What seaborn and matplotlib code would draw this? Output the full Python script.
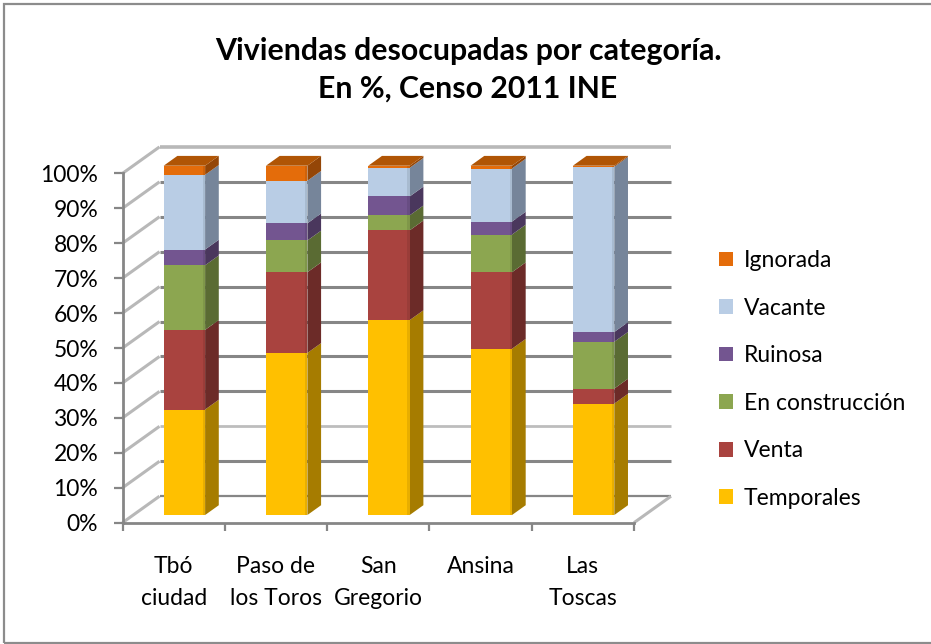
import numpy as np
import matplotlib
matplotlib.use("Agg")
import matplotlib.pyplot as plt
from matplotlib.patches import Patch, Rectangle
from matplotlib.ticker import PercentFormatter
import seaborn as sns

categories = ["Tbó\nciudad", "Paso de\nlos Toros", "San\nGregorio", "Ansina", "Las\nToscas"]
temporales = [30.2, 46.4, 55.8, 47.6, 31.9]
venta = [22.8, 23.1, 25.7, 21.9, 4.3]
construccion = [18.5, 9.1, 4.3, 10.8, 13.4]
ruinosa = [4.5, 4.9, 5.4, 3.7, 2.8]
vacante = [21.4, 12.2, 8.2, 15.2, 47.3]
ignorada = [2.6, 4.3, 0.6, 0.8, 0.3]

series_names = ["Temporales", "Venta", "En construcción", "Ruinosa", "Vacante", "Ignorada"]
series_values = [temporales, venta, construccion, ruinosa, vacante, ignorada]
front_colors = ["#FFC000", "#A9433F", "#8CA650", "#735590", "#B9CDE5", "#E46C0A"]
strip_colors = ["#E8AE00", "#9A3D39", "#7F9749", "#684D83", "#A8BBD0", "#CF6209"]
side_colors = ["#A67C00", "#6C2B28", "#5A6B33", "#4A375D", "#76859A", "#944607"]
top_color = "#B05505"

W, H = 931, 644
sns.set_theme(style="white")
plt.rcParams["font.family"] = ["Lato", "DejaVu Sans"]
fs = 16.5

fig = plt.figure(figsize=(W / 100, H / 100), dpi=100, facecolor="white")
L, R, T, B = 122.5, 634, 173.4, 522.7
ax = fig.add_axes([L / W, 1 - B / H, (R - L) / W, (B - T) / H])
ax.patch.set_alpha(0)

# oblique projection (depth 1 = back wall)
n = len(categories)
DX = 37 / ((R - L) / n)
DY = 26.5 / ((B - T) / 100)
D0, D1 = 0.29, 0.66
BW = 0.405
STRIP = 2.2 / ((R - L) / n)


def proj(x, p, d):
    return x + d * DX, p + d * DY


wall = "#868686"
# back wall grid, side wall and floor lines
for p in range(0, 101, 10):
    x0, y0 = proj(0, p, 1)
    x1, y1 = proj(n, p, 1)
    if p == 100:
        col, lw = "#B8B8B8", 2.6
    elif p == 20:
        col, lw = "#BDBDBD", 2.0
    else:
        col, lw = wall, 2.2 if p else 1.6
    ax.plot([x0, x1], [y0, y1], color=col, lw=lw, clip_on=False, zorder=1, solid_capstyle="butt")
    xd, yd = proj(0, p, 0)
    ax.plot([xd, x0], [yd, y0], color="#B8B8B8", lw=2.2, clip_on=False, zorder=1, solid_capstyle="butt")
xa, ya = proj(n, 0, 0)
xb, yb = proj(n, 0, 1)
ax.plot([xa, xb], [ya, yb], color="#B8B8B8", lw=2.2, clip_on=False, zorder=1, solid_capstyle="butt")

positions = np.arange(n) + 0.5 + D0 * DX
bottoms = np.zeros(n)
for name, vals, fc, stc, sc in zip(series_names, series_values, front_colors, strip_colors, side_colors):
    vals = np.array(vals, dtype=float)
    sns.barplot(x=positions, y=vals, bottom=bottoms + D0 * DY, native_scale=True, width=BW,
                color=fc, saturation=1, errorbar=None, linewidth=0, clip_on=False, zorder=4, ax=ax)
    for xc, b, v in zip(np.arange(n) + 0.5, bottoms, vals):
        xr = xc + BW / 2
        corners = [proj(xr, b, D0), proj(xr, b + v, D0), proj(xr, b + v, D1), proj(xr, b, D1)]
        ax.fill(*zip(*corners), color=sc, lw=0, clip_on=False, zorder=3)
        strip = [proj(xr - STRIP, b, D0), proj(xr, b, D0), proj(xr, b + v, D0), proj(xr - STRIP, b + v, D0)]
        ax.fill(*zip(*strip), color=stc, lw=0, clip_on=False, zorder=5)
    bottoms = bottoms + vals

# top faces
for xc, t in zip(np.arange(n) + 0.5, bottoms):
    xl, xr = xc - BW / 2, xc + BW / 2
    corners = [proj(xl, t, D0), proj(xr, t, D0), proj(xr, t, D1), proj(xl, t, D1)]
    ax.fill(*zip(*corners), color=top_color, lw=0, clip_on=False, zorder=3)

ax.set_xlim(0, n)
ax.set_ylim(0, 100)
ax.set_xlabel("")
ax.set_ylabel("")
ax.set_yticks(np.arange(0, 101, 10))
ax.yaxis.set_major_formatter(PercentFormatter(decimals=0))
ax.set_xticks(np.arange(n) + 0.5)
ax.set_xticklabels(categories, linespacing=1.62)
ax.set_xticks(np.arange(n + 1), minor=True)
ax.tick_params(axis="y", length=6.5, width=1.6, color=wall, pad=11, labelsize=fs, labelcolor="black", left=True)
ax.tick_params(axis="x", which="major", length=0, pad=24, labelsize=fs, labelcolor="black")
ax.tick_params(axis="x", which="minor", length=6, width=1.6, color=wall, bottom=True)
for s in ("top", "right"):
    ax.spines[s].set_visible(False)
for s in ("left", "bottom"):
    ax.spines[s].set_visible(True)
    ax.spines[s].set_color(wall)
    ax.spines[s].set_linewidth(2)

handles = [Patch(facecolor=c, edgecolor="none") for c in front_colors[::-1]]
ax.legend(handles, series_names[::-1], loc="upper left", bbox_to_anchor=(719 / W, 1 - 250 / H),
          bbox_transform=fig.transFigure, frameon=False, fontsize=fs, labelspacing=1.16,
          handlelength=0.61, handleheight=0.61, handletextpad=0.48, borderpad=0, borderaxespad=0,
          labelcolor="black")

fig.text(468 / W, 1 - 51 / H, "Viviendas desocupadas por categoría.", ha="center", va="center",
         fontsize=21.8, fontweight="bold", color="black")
fig.text(468 / W, 1 - 89 / H, "En %, Censo 2011 INE", ha="center", va="center",
         fontsize=21.8, fontweight="bold", color="black")

fig.add_artist(Rectangle((3.5 / W, 1 - 643 / H), 940 / W, 639 / H, transform=fig.transFigure,
                         facecolor="none", edgecolor="#8C8C8C", lw=1.6))
fig.savefig("out.png", dpi=100)
